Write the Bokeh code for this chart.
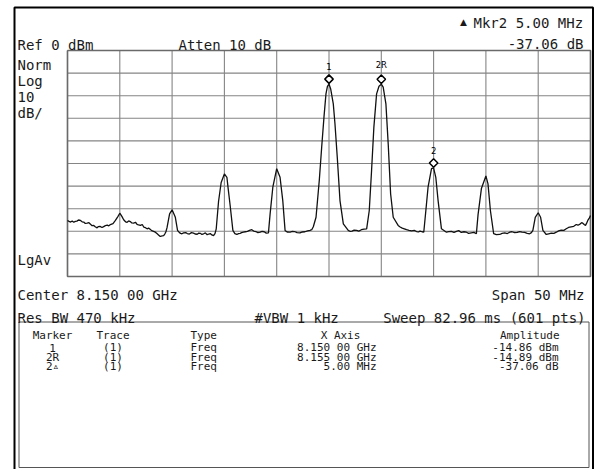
import numpy as np
from bokeh.plotting import figure
from bokeh.models import Range1d, ColumnDataSource
from bokeh.embed import file_html
from bokeh.resources import INLINE
from bokeh.core.properties import value
from bokeh.transform import dodge

# ---------------- data ----------------
START_MHZ = 8125.0
STOP_MHZ = 8175.0
REF_DBM = 0.0
BOTTOM_DBM = -100.0

freq_ticks = [8125, 8130, 8135, 8140, 8145, 8150, 8155, 8160, 8165, 8170, 8175]
amp_ticks = [0, -10, -20, -30, -40, -50, -60, -70, -80, -90, -100]

# trace, frequency offset from start (MHz)
trace_offset_mhz = [
    0.00, 0.15, 0.30, 0.45, 0.60, 0.75, 0.90, 1.05, 1.24, 1.40, 1.55, 1.70, 1.88, 2.05, 2.20, 2.35, 2.51, 2.65, 2.83, 2.95, 3.10, 3.30, 3.46, 3.62, 3.80, 3.95, 4.10, 4.35,
    4.58, 4.80, 5.00, 5.20,
    5.37, 5.55, 5.70, 5.85, 6.00, 6.15, 6.33, 6.50, 6.65, 6.80, 6.97, 7.15, 7.30, 7.45, 7.61, 7.75, 7.90, 8.05, 8.23, 8.40, 8.55, 8.70, 8.87, 9.05, 9.19, 9.30, 9.40,
    9.51, 9.76, 10.00, 10.31,
    10.52, 10.70, 10.82, 10.94, 11.10, 11.30, 11.45, 11.65, 11.85, 12.05, 12.20, 12.40, 12.55, 12.70, 12.85, 13.01, 13.18, 13.35, 13.50, 13.65, 13.80, 13.96, 14.10,
    14.22, 14.44, 14.69, 15.00, 15.24, 15.36, 15.55,
    15.81, 16.00, 16.19, 16.35, 16.50, 16.65, 16.82, 17.00, 17.20, 17.40, 17.62, 17.80, 18.00, 18.20, 18.42, 18.60, 18.80, 19.00, 19.21,
    19.37, 19.63, 20.00, 20.32, 20.58,
    20.80, 21.00, 21.28, 21.50, 21.70, 21.95, 22.23, 22.45, 22.70, 22.95, 23.19, 23.35, 23.50,
    23.76, 24.07, 24.30, 24.52, 24.71, 24.85, 25.00, 25.16, 25.41, 25.57, 25.79, 26.05, 26.37,
    26.84, 27.00, 27.20, 27.40, 27.64, 27.85, 28.10, 28.35, 28.60,
    28.85, 29.07, 29.29, 29.55, 29.78, 30.00, 30.18, 30.44, 30.66, 30.89, 31.14,
    31.61, 31.80, 32.00, 32.20, 32.41, 32.65, 32.90, 33.15, 33.37, 33.55, 33.70, 33.90, 34.06,
    34.26, 34.47, 34.80, 35.00, 35.21, 35.43, 35.75,
    36.23, 36.45, 36.70, 36.95, 37.18, 37.40, 37.65, 37.90, 38.14, 38.35, 38.60, 38.85, 39.09,
    39.25, 39.57, 40.00, 40.20, 40.43,
    40.74, 41.00, 41.32, 41.55, 41.80, 42.05, 42.27, 42.50, 42.75, 43.00, 43.23, 43.45, 43.70, 43.95, 44.18, 44.35, 44.49,
    44.72, 45.00, 45.23, 45.45,
    45.77, 46.00, 46.25, 46.50, 46.73, 46.95, 47.20, 47.45, 47.68, 47.90, 48.15, 48.40, 48.64, 48.80, 49.00, 49.15, 49.26, 49.40, 49.52, 49.62, 49.74, 49.87, 50.00,
]
trace_dbm = [
    -75.2, -75.6, -75.9, -75.4, -76.0, -75.6, -75.5, -75.0, -75.2, -75.8, -75.9, -76.5, -76.4, -76.2, -76.9, -77.5, -77.4, -78.0, -78.5, -77.9, -77.8, -78.3, -77.9, -77.5, -77.3, -77.6, -77.0, -76.6,
    -75.2, -73.6, -72.0, -73.4,
    -74.9, -75.8, -76.0, -75.4, -75.7, -76.3, -76.4, -76.0, -76.9, -77.2, -77.4, -77.0, -78.2, -78.4, -78.9, -78.6, -79.1, -79.7, -80.0, -80.4, -81.0, -81.6, -82.3, -82.0, -81.9, -81.2, -80.3,
    -78.5, -72.3, -70.5, -73.8,
    -79.6, -80.6, -80.9, -81.1, -80.7, -80.6, -81.0, -81.2, -80.6, -80.8, -81.2, -81.3, -80.8, -80.9, -81.4, -81.1, -80.7, -81.5, -81.2, -81.0, -81.6, -81.9, -81.0,
    -78.9, -66.8, -58.4, -54.6, -56.1, -61.1, -68.6,
    -79.6, -81.0, -81.4, -81.0, -80.9, -80.6, -80.4, -80.2, -80.0, -79.6, -79.3, -79.9, -80.1, -80.6, -80.4, -80.0, -80.2, -80.8, -80.7,
    -72.3, -60.5, -52.3, -56.1, -66.4,
    -79.6, -80.3, -80.4, -80.0, -80.1, -80.6, -80.7, -80.3, -80.2, -79.8, -79.6, -79.3, -78.0,
    -73.8, -57.5, -42.8, -29.5, -19.2, -15.9, -14.86, -17.0, -23.6, -32.4, -47.2, -66.4, -76.7,
    -79.6, -80.0, -79.9, -79.5, -79.6, -79.9, -79.3, -79.0, -78.9,
    -70.8, -53.1, -33.9, -19.2, -15.8, -14.89, -16.2, -23.6, -41.3, -63.4, -73.8,
    -77.4, -78.1, -78.6, -78.9, -79.3, -79.6, -79.8, -79.6, -80.1, -80.3, -79.9, -80.2, -80.4,
    -70.8, -60.5, -52.3, -51.95, -56.1, -66.4, -78.9,
    -80.4, -80.1, -80.0, -80.5, -80.0, -79.7, -80.5, -80.2, -80.4, -80.9, -80.7, -80.5, -81.1,
    -72.6, -61.1, -55.5, -59.0, -70.8,
    -81.0, -81.5, -81.4, -80.9, -80.7, -81.0, -80.4, -80.2, -80.6, -80.5, -80.1, -80.4, -80.5, -80.9, -81.1, -80.6, -79.6,
    -73.8, -71.8, -73.8, -79.6,
    -81.4, -81.1, -80.8, -80.9, -80.4, -79.8, -79.5, -79.6, -78.9, -78.3, -78.0, -77.8, -77.0, -77.3, -76.8, -76.2, -76.4, -77.0, -77.4, -76.5, -75.2, -74.3, -73.0,
]

marker_labels = ["1", "2R", "2"]
marker_freq_mhz = [8150.0, 8155.0, 8160.0]
marker_dbm = [-14.86, -14.89, -51.95]

table_headers = ["Marker", "Trace", "Type", "X Axis", "Amplitude"]
table_marker = ["1", "2R", "2\u25b5"]
table_trace = ["(1)", "(1)", "(1)"]
table_type = ["Freq", "Freq", "Freq"]
table_xaxis = ["8.150 00 GHz", "8.155 00 GHz", "5.00 MHz"]
table_amp = ["-14.86 dBm", "-14.89 dBm", "-37.06 dB"]

# ---------------- layout ----------------
W, H = 596, 469
GL, GR, GT, GB = 67, 590, 50, 276   # grid box inside the canvas (px)
kx = (GR - GL) / (STOP_MHZ - START_MHZ)
ky = (GB - GT) / (REF_DBM - BOTTOM_DBM)

p = figure(width=W, height=H,
           x_range=Range1d(START_MHZ - GL / kx, STOP_MHZ + (W - GR) / kx),
           y_range=Range1d(BOTTOM_DBM - (H - GB) / ky, REF_DBM + GT / ky),
           x_axis_type=None, y_axis_type=None, toolbar_location=None,
           output_backend="svg", min_border=0, outline_line_color=None,
           background_fill_color="white", border_fill_color="white")
p.extra_x_ranges = {"px": Range1d(0, W)}
p.extra_y_ranges = {"py": Range1d(H, 0)}

MONO = value("DejaVu Sans Mono")
SANS = value("DejaVu Sans")
GRID_C = "#858585"

# grid
p.segment(x0=freq_ticks, y0=[BOTTOM_DBM] * len(freq_ticks), x1=freq_ticks, y1=[REF_DBM] * len(freq_ticks),
          line_color=GRID_C, line_width=1.1)
p.segment(x0=[START_MHZ] * len(amp_ticks), y0=amp_ticks, x1=[STOP_MHZ] * len(amp_ticks), y1=amp_ticks,
          line_color=GRID_C, line_width=1.1)
p.line(x=[START_MHZ, STOP_MHZ, STOP_MHZ, START_MHZ, START_MHZ],
       y=[REF_DBM, REF_DBM, BOTTOM_DBM, BOTTOM_DBM, REF_DBM], line_color="#6a6a6a", line_width=1.6)

# trace
trace_src = ColumnDataSource(dict(f=[START_MHZ + o for o in trace_offset_mhz], a=trace_dbm))
p.line(x="f", y="a", source=trace_src, line_color="#111111", line_width=1.3)

# markers
msrc = ColumnDataSource(dict(f=marker_freq_mhz, a=marker_dbm, t=marker_labels))
p.scatter(x="f", y=dodge("a", 2.2), source=msrc, marker="square", angle=np.pi / 4, size=6,
          line_color="black", line_width=1.5, fill_color="white")
p.text(x="f", y="a", text="t", source=msrc, y_offset=-14, text_align="center", text_baseline="bottom",
       text_font=SANS, text_font_size="8.5px", text_color="black")

# outer frame and table box (canvas pixels)
p.line(x=[14, 14, 592.5, 592.5], y=[H, 7, 7, H], x_range_name="px", y_range_name="py",
       line_color="black", line_width=2)
p.line(x=[18.5, 18.5, 588.5, 588.5, 18.5], y=[467, 321.5, 321.5, 467, 467], x_range_name="px", y_range_name="py",
       line_color="#555555", line_width=1)


def txt(x, y, s, align="left", size="14px", font=MONO):
    p.text(x=[x], y=[y], text=[s], x_range_name="px", y_range_name="py",
           text_align=align, text_baseline="alphabetic", text_font=font,
           text_font_size=size, text_color="#1a1a1a")


# header and side annotations
txt(17, 44, "Ref 0 dBm")
txt(178, 44, "Atten 10 dB")
txt(463, 21.5, "\u25b2", align="center", size="9px", font=SANS)
txt(591, 22, "Mkr2  5.00 MHz", align="right")
txt(583, 43, "-37.06 dB", align="right")
for yy, s in zip([64.5, 80.5, 96.5, 112.5], ["Norm", "Log", "10", "dB/"]):
    txt(17, yy, s)
txt(17, 259, "LgAv")
txt(17, 294.5, "Center 8.150 00 GHz")
txt(584, 294, "Span 50 MHz", align="right")
txt(17, 317, "Res BW 470 kHz")
txt(254, 317, "#VBW 1 kHz")
txt(585, 317, "Sweep 82.96 ms (601 pts)", align="right")

# marker table
TS = "11px"
txt(52, 335, table_headers[0], align="center", size=TS)
txt(112.5, 335, table_headers[1], align="center", size=TS)
txt(190, 335, table_headers[2], align="left", size=TS)
txt(340, 335, table_headers[3], align="center", size=TS)
txt(559, 335, table_headers[4], align="right", size=TS)
for yy, m, tr, ty, xa, am in zip([347, 356.5, 366], table_marker, table_trace, table_type, table_xaxis, table_amp):
    txt(52, yy, m, align="center", size=TS)
    txt(112.5, yy, tr, align="center", size=TS)
    txt(190, yy, ty, align="left", size=TS)
    txt(376, yy, xa, align="right", size=TS)
    txt(558, yy, am, align="right", size=TS)

open("out.html", "w").write(file_html(p, INLINE))
